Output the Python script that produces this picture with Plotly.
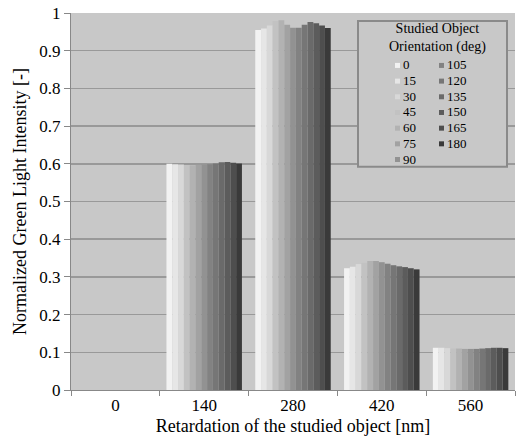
import plotly.graph_objects as go

# ---- data ----
categories = ["0", "140", "280", "420", "560"]
orientations = [0, 15, 30, 45, 60, 75, 90, 105, 120, 135, 150, 165, 180]
vals_0 = [0, 0, 0, 0, 0, 0, 0, 0, 0, 0, 0, 0, 0]
vals_140 = [0.600, 0.599, 0.598, 0.597, 0.596, 0.597, 0.598, 0.599, 0.601, 0.604, 0.605, 0.603, 0.601]
vals_280 = [0.955, 0.959, 0.967, 0.979, 0.981, 0.969, 0.961, 0.961, 0.969, 0.976, 0.973, 0.967, 0.960]
vals_420 = [0.323, 0.327, 0.334, 0.337, 0.342, 0.342, 0.339, 0.335, 0.331, 0.328, 0.326, 0.323, 0.320]
vals_560 = [0.112, 0.112, 0.111, 0.110, 0.110, 0.109, 0.109, 0.109, 0.110, 0.111, 0.112, 0.112, 0.111]
y_ticks = [0, 0.1, 0.2, 0.3, 0.4, 0.5, 0.6, 0.7, 0.8, 0.9, 1]
y_tick_labels = ["0", "0.1", "0.2", "0.3", "0.4", "0.5", "0.6", "0.7", "0.8", "0.9", "1"]

colors = ["#f2f2f2", "#e6e6e6", "#d8d8d8", "#c2c2c2", "#b2b2b2", "#a2a2a2", "#929292",
          "#828282", "#767676", "#6a6a6a", "#5c5c5c", "#4e4e4e", "#3a3a3a"]

groups = [vals_0, vals_140, vals_280, vals_420, vals_560]

W, H = 518, 439
L, R, T, B = 71, 515, 13, 390.5

fig = go.Figure()
for i, o in enumerate(orientations):
    fig.add_trace(go.Bar(
        x=categories,
        y=[g[i] for g in groups],
        name=str(o),
        marker=dict(color=colors[i], line=dict(width=0)),
        showlegend=False,
    ))

FONT = "Liberation Serif, Times New Roman, serif"

def px(x):
    return (x - L) / (R - L)

def py(y):
    return (B - y) / (B - T)

# legend box (drawn as shapes + text)
shapes = [dict(type="rect", xref="paper", yref="paper", layer="above",
               x0=px(358), x1=px(507), y0=py(167), y1=py(21),
               fillcolor="#c8c8c8", line=dict(color="#8a8a8a", width=2))]
annotations = [dict(xref="paper", yref="paper", x=px(437), y=py(38.3),
                    text="Studied Object<br>Orientation (deg)", showarrow=False,
                    xanchor="center", yanchor="middle", align="center",
                    font=dict(family=FONT, size=14, color="black"))]
row0 = 65
step = 15.7
for i, o in enumerate(orientations):
    col = 0 if i < 7 else 1
    r = i if i < 7 else i - 7
    mx = 395 if col == 0 else 439
    yy = row0 + r * step
    shapes.append(dict(type="rect", xref="paper", yref="paper", layer="above",
                       x0=px(mx), x1=px(mx + 5), y0=py(yy + 3), y1=py(yy - 2),
                       fillcolor=colors[i], line=dict(width=0)))
    annotations.append(dict(xref="paper", yref="paper", x=px(mx + 6), y=py(yy),
                            text=str(o), showarrow=False, xanchor="left", yanchor="middle",
                            font=dict(family=FONT, size=13, color="black")))

fig.update_layout(
    width=W, height=H,
    margin=dict(l=L, r=W - R, t=T, b=H - B, pad=0),
    paper_bgcolor="white",
    plot_bgcolor="#c8c8c8",
    barmode="group",
    bargap=0.15,
    bargroupgap=0,
    font=dict(family=FONT, size=17, color="black"),
    shapes=shapes,
    annotations=annotations,
    xaxis=dict(
        type="category",
        automargin=False,
        tickson="boundaries",
        ticks="outside", ticklen=5, tickcolor="#888888", tickwidth=1,
        showline=True, linecolor="#888888", linewidth=1,
        showgrid=False,
        tickfont=dict(family=FONT, size=17, color="black"),
        title=dict(text="Retardation of the studied object [nm]", standoff=4,
                   font=dict(family=FONT, size=18, color="black")),
    ),
    yaxis=dict(
        automargin=False,
        range=[0, 1],
        tickvals=y_ticks, ticktext=y_tick_labels,
        ticks="outside", ticklen=6, tickcolor="#888888", tickwidth=1,
        showline=True, linecolor="#888888", linewidth=1,
        showgrid=True, gridcolor="#999999", gridwidth=1.5,
        zeroline=False,
        tickfont=dict(family=FONT, size=17, color="black"),
        title=dict(text="Normalized Green Light Intensity [-]", standoff=8,
                   font=dict(family=FONT, size=18, color="black")),
    ),
)

fig.write_html("out.html",
               config={"displayModeBar": False, "staticPlot": True},
               post_script="document.body.style.margin='0px';document.body.style.overflow='hidden';")
